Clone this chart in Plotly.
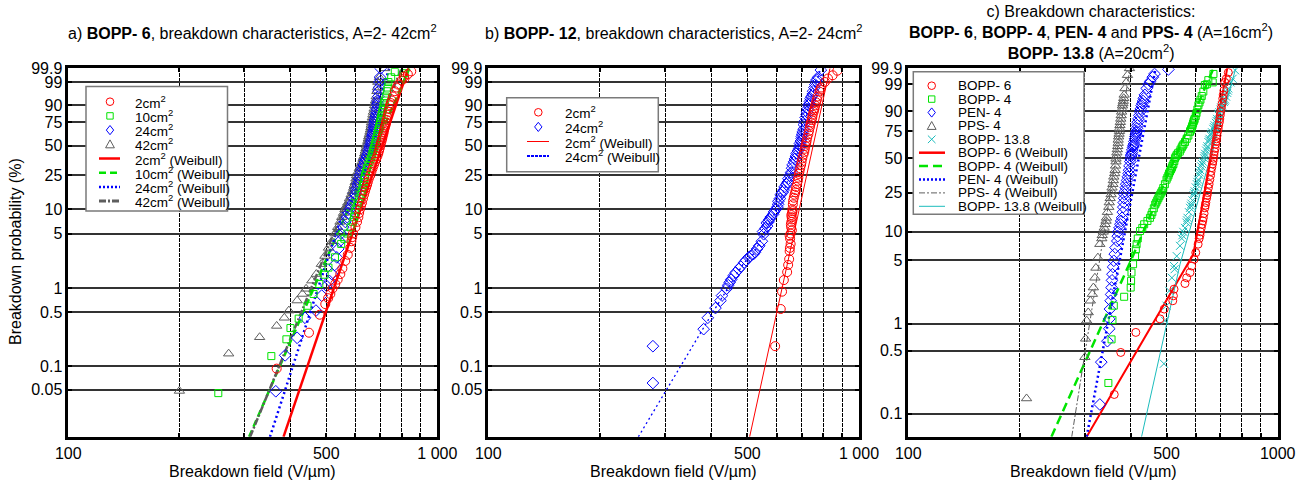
import numpy as np
import plotly.graph_objects as go

W, H = 1308, 484
FONT = "Liberation Sans, Arial, Helvetica, sans-serif"

RED = "#ff0000"
GREEN = "#00e400"
BLUE = "#0000ff"
GRAY = "#5e5e5e"
CYAN = "#1cbcbc"

# axis ticks
field_ticks = [100, 200, 300, 400, 500, 600, 700, 800, 900, 1000]
field_labels_ab = ["100", "", "", "", "500", "", "", "", "", "1 000"]
field_labels_c = ["100", "", "", "", "500", "", "", "", "", "1000"]
prob_ticks_ab = [99.9, 99, 90, 75, 50, 25, 10, 5, 1, 0.5, 0.1, 0.05]
prob_ticks_c = [99.9, 99, 90, 75, 50, 25, 10, 5, 1, 0.5, 0.1]

# ---- a) BOPP-6, A = 2..42 cm2  (field in V/um, probability in %) ----
a_2cm_E = [367, 449, 480, 497, 506, 513, 520, 529, 537, 546, 553, 563, 572, 581, 585, 588, 591, 600, 606,
           611, 617, 625, 633, 641, 648, 658, 668, 678, 688, 695, 700, 706, 711, 716, 721, 726, 732, 738,
           745, 752, 758, 767, 776, 784, 800, 815, 812, 832, 850,
           614, 621, 629, 637, 645, 652, 663, 673, 683, 692, 698, 703, 709, 714, 718, 724, 729, 735, 741, 748]
a_2cm_F = [0.093, 0.27, 0.46, 0.63, 0.75, 0.85, 1.0, 1.14, 1.3, 1.53, 1.8, 2.25, 2.7, 3.3, 4, 4.5, 5, 6, 7,
           8, 10, 12, 15, 18, 21, 25, 30, 35, 40, 45, 50, 55, 60, 65, 70, 75, 80, 85,
           90, 93, 95, 97, 98, 98.6, 99.2, 99.4, 99.55, 99.7, 99.82,
           9, 11, 13.5, 16.5, 19.5, 23, 27.5, 32.5, 37.5, 42.5, 47.5, 52.5, 57.5, 62.5, 67.5, 72.5, 77.5, 82.5, 87.5, 91.5]

a_10cm_E = [255, 355, 390, 400, 421, 445, 462, 479, 495, 507, 528, 549, 560, 571, 582, 590, 595, 600, 610, 620,
            627, 632, 637, 645, 655, 664, 670, 676, 681, 686, 690, 695, 700, 704, 709, 715, 720, 725, 730, 734,
            737, 750, 767, 815, 818,
            597, 605, 615, 624, 630, 635, 641, 650, 660, 667, 673, 679, 684, 688, 693, 698, 702, 707, 712, 718]
a_10cm_F = [0.045, 0.135, 0.222, 0.31, 0.41, 0.6, 0.85, 1.14, 1.5, 1.85, 2.5, 3.7, 4.3, 5, 6, 7, 8, 10, 12, 15,
            18, 21, 25, 30, 35, 40, 45, 50, 55, 60, 65, 70, 75, 80, 85, 90, 93, 95, 97, 98,
            99, 99.5, 99.8, 99.75, 99.9,
            9, 11, 13.5, 16.5, 19.5, 23, 27.5, 32.5, 37.5, 42.5, 47.5, 52.5, 57.5, 62.5, 67.5, 72.5, 77.5, 82.5, 87.5, 91.5]

a_24cm_E = [365, 387, 417, 438, 469, 486, 501, 510, 518, 527, 534, 539, 544, 548, 556, 563, 570, 579, 590, 600,
            607, 612, 617, 627, 637, 645, 652, 658, 663, 667, 671, 674, 676, 680, 684, 687, 690, 692, 694, 695,
            697, 699, 702,
            575, 585, 596, 604, 610, 615, 622, 632, 641, 649, 655, 661, 665, 669, 673, 675, 678, 682, 686, 689]
a_24cm_F = [0.0475, 0.138, 0.232, 0.42, 0.52, 0.81, 1.08, 1.25, 1.53, 2.0, 2.5, 3.2, 4, 5, 6, 7, 8, 10, 12, 15,
            18, 21, 25, 30, 35, 40, 45, 50, 55, 60, 65, 70, 75, 80, 85, 90, 93, 95, 97, 98,
            99, 99.5, 99.9,
            9, 11, 13.5, 16.5, 19.5, 23, 27.5, 32.5, 37.5, 42.5, 47.5, 52.5, 57.5, 62.5, 67.5, 72.5, 77.5, 82.5, 87.5, 91.5]

a_42cm_E = [200, 272, 330, 367, 385, 396, 417, 431, 441, 457, 470, 485, 496, 507, 518, 528, 537, 545, 551, 562,
            572, 584, 593, 599, 604, 615, 625, 633, 638, 643, 648, 652, 657, 661, 663, 667, 671, 676, 680, 683,
            686, 688, 690, 697, 720,
            557, 567, 578, 589, 596, 602, 610, 620, 629, 636, 641, 646, 650, 655, 659, 662, 665, 669, 674, 678]
a_42cm_F = [0.048, 0.145, 0.236, 0.33, 0.42, 0.52, 0.70, 0.85, 0.99, 1.26, 1.53, 2.05, 2.6, 3.3, 4, 5, 6, 7, 8, 10,
            12, 15, 18, 21, 25, 30, 35, 40, 45, 50, 55, 60, 65, 70, 75, 80, 85, 90, 93, 95,
            97, 98, 99, 99.5, 99.9,
            9, 11, 13.5, 16.5, 19.5, 23, 27.5, 32.5, 37.5, 42.5, 47.5, 52.5, 57.5, 62.5, 67.5, 72.5, 77.5, 82.5, 87.5, 91.5]

# Weibull fit lines, panel a (end points read where they leave the frame)
a_fit_F = [0.0123, 99.9]
a_fit_2cm_E = [383, 835]
a_fit_10cm_E = [309, 840]
a_fit_24cm_E = [352, 741]
a_fit_42cm_E = [311, 800]

# ---- b) BOPP-12, A = 2..24 cm2 ----
b_2cm_E = [594, 615, 620, 627, 640, 644, 648, 650, 654, 652, 654, 656, 657, 658, 660, 661, 663, 664, 670, 675,
           681, 686, 694, 700, 708, 717, 722, 730, 737, 742, 748, 754, 759, 766, 773, 782, 790, 809, 825, 849,
           874,
           651, 650, 659, 655, 660, 657, 662, 667, 673, 677, 684, 688, 691, 698, 703, 712, 714, 720, 725, 733,
           739, 745, 750, 757, 762, 770, 786]
b_2cm_F = [0.181, 0.545, 0.91, 1.28, 1.62, 2.0, 2.37, 3.0, 3.7, 4.3, 5, 6, 7, 8, 9, 10, 11.5, 12.7, 15, 17,
           20, 23.6, 30, 35, 41.3, 50, 55, 62.4, 70, 75, 80, 85, 88, 92, 95, 96.9, 98, 99, 99.4, 99.64,
           99.84,
           3.3, 4.7, 5.5, 6.5, 7.5, 8.5, 9.5, 13.8, 16, 18.5, 21.8, 26, 27.8, 32.5, 38, 44, 47, 52.5, 58.5, 66,
           72.5, 77.5, 82.5, 86.5, 90, 93.5, 97.5]

b_24cm_E = [278, 278, 381, 391, 410, 423, 427, 439, 444, 448, 452, 459, 465, 474, 480, 490, 496, 504, 510, 519,
            524, 531, 538, 547, 553, 559, 564, 573, 587, 597, 605, 615, 626, 637, 650, 660, 668, 676, 684, 692,
            697, 701, 705, 710, 718, 724, 731, 737, 745, 752, 758, 766, 776, 789,
            551, 565, 570, 578, 590, 603, 606, 612, 622, 630, 642, 645, 656, 662, 672, 679, 690, 693, 700, 703,
            709, 713, 722, 727, 735, 740, 750, 762, 770]
b_24cm_F = [0.0607, 0.181, 0.30, 0.42, 0.56, 0.70, 0.81, 0.99, 1.1, 1.2, 1.3, 1.46, 1.6, 1.77, 1.9, 2.15, 2.3, 2.5, 2.6, 2.75,
            2.9, 3.2, 3.5, 4.0, 4.9, 5.8, 6.8, 7.5, 8.7, 10, 11.5, 15, 17, 19.8, 25, 30, 35, 40, 45, 50,
            55, 60, 65, 72.8, 80, 85, 90, 92.5, 95, 97, 98, 99.1, 99.5, 99.86,
            5.3, 6.2, 7.0, 8.0, 9.3, 10.7, 12.5, 13.5, 16, 18.5, 21, 23, 27, 32.5, 37.5, 42.5, 47.5, 52.5, 57.5, 62.5,
            68, 76, 82.5, 87.5, 91, 94, 96, 98.6, 99.3]

b_fit_2cm_E = [507, 835]
b_fit_2cm_F = [0.0123, 99.9]
b_fit_24cm_E = [254, 300, 406, 490, 519, 553, 600, 650, 692, 737, 789]
b_fit_24cm_F = [0.0123, 0.0466, 0.52, 2.15, 2.75, 4.9, 10, 25, 50, 92.5, 99.9]

# ---- c) BOPP-6, BOPP-4, PEN-4, PPS-4 (16 cm2), BOPP-13.8 (20 cm2) ----
c_bopp6_E = [361, 376, 413, 480, 493, 520, 522, 524, 561, 567, 579, 585, 594, 600, 609, 613, 618, 621, 624, 629,
             635, 639, 642, 646, 649, 655, 660, 666, 670, 674, 679, 683, 687, 692, 697, 699, 704, 710, 715, 719,
             726, 735,
             616, 627, 632, 637, 644, 652, 658, 663, 668, 672, 677, 681, 685, 690, 695, 701, 707, 712]
c_bopp6_F = [0.164, 0.48, 0.80, 1.13, 1.45, 1.79, 2.03, 2.4, 2.77, 3.2, 3.65, 4.3, 5.1, 6, 7.4, 8.5, 10, 11, 12, 14,
             17.7, 20, 22, 25, 27.6, 33, 39, 45, 50, 56, 62.8, 68, 74.4, 80, 85, 87.6, 92, 95.9, 98, 99.2,
             99.5, 99.8,
             9.2, 13, 15.5, 18.8, 23.5, 30, 36, 42, 47.5, 53, 59, 65.5, 71, 77, 82.5, 89.8, 94, 97]

c_bopp4_E = [348, 355, 357, 360, 384, 400, 401, 402, 406, 411, 413, 415, 418, 424, 435, 444, 451, 458, 466, 472,
             478, 484, 490, 500, 506, 511, 517, 522, 527, 533, 543, 550, 556, 567, 579, 584, 588, 592, 596, 603,
             610, 618, 629, 635, 643, 667, 649, 670,
             430, 455, 462, 469, 475, 481, 487, 495, 503, 508, 514, 519, 525, 530, 537, 546, 553, 561, 573, 581,
             586, 590, 594, 600, 606, 614, 623]
c_bopp4_F = [0.22, 0.67, 1.1, 1.58, 1.98, 2.5, 2.96, 3.65, 4.5, 5.5, 6.5, 7.4, 8.5, 10.2, 12, 13, 14, 16, 19.1, 21,
             23, 25, 27.6, 33, 36, 39, 42, 45, 50, 53, 56, 60, 62.8, 68, 74.4, 77, 80, 83, 85, 89,
             93.2, 95.5, 97.8, 98.9, 99, 99.2, 99.4, 99.75,
             11, 15, 17.5, 20, 22, 24, 26, 30, 34.5, 37.5, 40.5, 43.5, 47.5, 51.5, 54.5, 58, 61.5, 65, 71, 75.5,
             78.5, 81.5, 84, 87, 91, 94.4, 96.7]

c_pen4_E = [330, 333, 346, 350, 350, 351.5, 353, 354, 355, 356, 357, 358.5, 360, 362, 364, 368, 370, 375, 379, 382,
            384, 386, 389, 393, 396, 399, 401, 403, 406, 408, 411, 413, 415, 417, 420, 424, 428, 432, 437, 442,
            447, 452, 459, 464, 506,
            369, 373, 377, 381, 383, 385, 388, 391, 395, 397, 400, 402, 404, 407, 409, 412, 414, 416, 418, 422,
            426, 430, 434]
c_pen4_F = [0.127, 0.375, 0.64, 0.88, 1.13, 1.45, 1.79, 2.1, 2.5, 3, 3.5, 4.2, 4.9, 5.8, 6.8, 8, 10, 12, 14, 18,
            22, 25.7, 30, 35, 40, 47, 52, 55, 60, 63, 68, 71.8, 75, 80, 85, 89.7, 93, 95, 97, 98.4,
            99, 99.3, 99.6, 99.75, 99.88,
            9, 11, 13, 16, 20, 24, 27.8, 32.5, 37.5, 43.5, 49.5, 53.5, 57.5, 61.5, 65.5, 70, 73.4, 77.5, 82.5, 87.4,
            91.4, 94, 96]

c_pps4_E = [209, 300.6, 302, 304, 307, 311, 315, 317, 320, 322, 326, 330, 334, 337, 341, 344, 349, 352, 355, 358,
            360, 363, 365, 366, 368, 370, 371, 373, 374, 376, 378, 380, 382, 384, 386, 389, 392, 397,
            335, 339, 343, 346, 350, 354, 356, 359, 362, 364, 365, 367, 369, 370, 372, 373, 375, 377, 379, 381,
            383]
c_pps4_F = [0.148, 0.425, 0.68, 1.08, 1.33, 1.79, 2.12, 2.5, 3.2, 4.1, 5.3, 7.4, 8.5, 10, 12, 14, 18, 22, 25.7, 30,
            35, 40, 47, 52, 58, 64, 70, 75, 80, 85, 89.7, 93, 95, 97, 98.4, 99.2, 99.7, 99.9,
            9.2, 11, 13, 16, 20, 24, 27.8, 32.5, 37.5, 43.5, 49.5, 55, 61, 67, 72.5, 77.5, 82.5, 87.4, 91.4, 94,
            96]

c_bopp138_E = [492, 495, 500, 509, 517, 526, 524, 533, 544, 550, 555, 561, 566, 570, 575, 579, 584, 588, 592, 596,
               600, 604, 609, 613, 617, 621, 627, 632, 636, 640, 645, 649, 654, 659, 664, 669, 675, 680, 685, 690,
               695, 700, 707, 715, 720, 725, 730, 735, 745, 755, 767,
               552, 568, 582, 594, 606, 615, 624, 634, 643, 652, 661, 672, 683, 692, 703, 718, 733]
c_bopp138_F = [0.36, 1.08, 1.58, 2.3, 3.2, 3.97, 4.3, 5.5, 7.1, 8.5, 10, 11, 12.5, 14, 16, 17.7, 19.5, 21, 23.5, 25.7,
               28, 30, 33, 36.5, 40, 43, 47, 50, 54, 57, 61, 65, 68, 71, 74, 77, 80, 82, 85, 87.6,
               89.5, 91, 93, 94.6, 95.6, 96.5, 97.5, 98.4, 99.2, 99.5, 99.86,
               9.2, 13.2, 18.6, 24.6, 31.5, 38.2, 45, 52, 59, 66.5, 72.5, 78.5, 83.5, 88.5, 92, 95.1, 98]

c_fit_bopp6_E = [304, 591, 730]
c_fit_bopp6_F = [0.0556, 5.76, 99.9]
c_fit_bopp4_E = [244, 402, 670]
c_fit_bopp4_F = [0.0556, 5.1, 99.9]
c_fit_pen4_E = [304, 467]
c_fit_pen4_F = [0.0556, 99.9]
c_fit_pps4_E = [277, 398]
c_fit_pps4_F = [0.0556, 99.9]
c_fit_bopp138_E = [428, 544, 770]
c_fit_bopp138_F = [0.0556, 4.5, 99.9]


def weibull(F):
    # Weibull probability scale: ln(-ln(1-F))
    F = np.asarray(F, dtype=float) / 100.0
    return np.log(-np.log(1.0 - F))


def fx(x):
    return x / W


def fy(y):
    return 1 - y / H


fig = go.Figure()


def add_fit(ax, E, F, color, width, dash):
    fig.add_trace(go.Scatter(x=E, y=weibull(F), mode="lines", xaxis=ax[0], yaxis=ax[1],
                             showlegend=False, hoverinfo="skip",
                             line=dict(color=color, width=width, dash=dash)))


def add_points(ax, E, F, color, symbol, size=8):
    fig.add_trace(go.Scatter(x=E, y=weibull(F), mode="markers", xaxis=ax[0], yaxis=ax[1],
                             showlegend=False,
                             marker=dict(symbol=symbol, size=size, color=color,
                                         line=dict(color=color, width=1))))


A, B, C = ("x", "y"), ("x2", "y2"), ("x3", "y3")

# panel a
add_fit(A, a_fit_2cm_E, a_fit_F, RED, 2.5, "solid")
add_fit(A, a_fit_10cm_E, a_fit_F, GREEN, 2.5, "7px,4px")
add_fit(A, a_fit_24cm_E, a_fit_F, BLUE, 2.5, "2px,3px")
add_fit(A, a_fit_42cm_E, a_fit_F, GRAY, 2.5, "7px,2px,2px,2px")
add_points(A, a_42cm_E, a_42cm_F, GRAY, "triangle-up-open", 9)
add_points(A, a_24cm_E, a_24cm_F, BLUE, "diamond-open", 9)
add_points(A, a_10cm_E, a_10cm_F, GREEN, "square-open", 7)
add_points(A, a_2cm_E, a_2cm_F, RED, "circle-open", 9)

# panel b
add_fit(B, b_fit_2cm_E, b_fit_2cm_F, RED, 1, "solid")
add_fit(B, b_fit_24cm_E, b_fit_24cm_F, BLUE, 1.3, "2px,3px")
add_points(B, b_24cm_E, b_24cm_F, BLUE, "diamond-open", 9)
add_points(B, b_2cm_E, b_2cm_F, RED, "circle-open", 9)

# panel c
add_fit(C, c_fit_bopp6_E, c_fit_bopp6_F, RED, 2, "solid")
add_fit(C, c_fit_bopp4_E, c_fit_bopp4_F, GREEN, 2.5, "9px,5px")
add_fit(C, c_fit_pen4_E, c_fit_pen4_F, BLUE, 2.5, "2px,3px")
add_fit(C, c_fit_pps4_E, c_fit_pps4_F, GRAY, 1, "6px,2px,2px,2px")
add_fit(C, c_fit_bopp138_E, c_fit_bopp138_F, CYAN, 1, "solid")
add_points(C, c_pps4_E, c_pps4_F, GRAY, "triangle-up-open", 9)
add_points(C, c_pen4_E, c_pen4_F, BLUE, "diamond-open", 9)
add_points(C, c_bopp4_E, c_bopp4_F, GREEN, "square-open", 7)
add_points(C, c_bopp138_E, c_bopp138_F, CYAN, "x-thin", 8)
add_points(C, c_bopp6_E, c_bopp6_F, RED, "circle-open", 8)


def xaxis_cfg(left, right, labels, anchor):
    return dict(domain=[fx(left), fx(right)], anchor=anchor, type="log", range=[2, 3],
                tickvals=field_ticks, ticktext=labels,
                showgrid=True, gridcolor="black", gridwidth=1.4, griddash="4px,1px",
                showline=True, linecolor="black", linewidth=2.5, mirror="ticks",
                ticks="inside", ticklen=4, tickcolor="black", tickwidth=1.5,
                tickfont=dict(size=16, color="black", family=FONT),
                zeroline=False, automargin=False, fixedrange=True)


def yaxis_cfg(ticks, bottom, anchor):
    return dict(domain=[fy(436.7), fy(68.3)], anchor=anchor, range=[bottom, 1.935],
                tickvals=weibull(ticks).tolist(), ticktext=[f"{t:g}" for t in ticks],
                showgrid=True, gridcolor="#333333", gridwidth=1.6,
                showline=True, linecolor="black", linewidth=2.5, mirror="ticks",
                ticks="inside", ticklen=4, tickcolor="black", tickwidth=1.5,
                tickfont=dict(size=16, color="black", family=FONT),
                zeroline=False, automargin=False, fixedrange=True)


annotations = []
shapes = []


def text(x, y, s, size=16, anchor="center", angle=0):
    annotations.append(dict(x=fx(x), y=fy(y), xref="paper", yref="paper", text=s, showarrow=False,
                            xanchor=anchor, yanchor="middle", textangle=angle,
                            font=dict(size=size, color="black", family=FONT)))


# titles
text(252.8, 31.5, "a) <b>BOPP- 6</b>, breakdown characteristics, A=2- 42cm<sup>2</sup>")
text(673.7, 31.5, "b) <b>BOPP- 12</b>, breakdown characteristics, A=2- 24cm<sup>2</sup>")
text(1091, 32, "c) Breakdown characteristics:<br><b>BOPP- 6</b>, <b>BOPP- 4</b>, <b>PEN- 4</b> and "
               "<b>PPS- 4</b> (A=16cm<sup>2</sup>)<br><b>BOPP- 13.8</b> (A=20cm<sup>2</sup>)")
text(15, 252, "Breakdown probability (%)", angle=-90)
for cx in (252.8, 673.7, 1093):
    text(cx, 471.5, "Breakdown field (V/µm)")


def legend_marker(kind, cx, cy, color):
    r = 3.8
    ln = dict(color=color, width=1)
    base = dict(xref="paper", yref="paper", line=ln)
    if kind == "circle":
        shapes.append(dict(type="circle", x0=fx(cx - r), x1=fx(cx + r), y0=fy(cy + r), y1=fy(cy - r), **base))
    elif kind == "square":
        q = 3.2
        shapes.append(dict(type="rect", x0=fx(cx - q), x1=fx(cx + q), y0=fy(cy + q), y1=fy(cy - q), **base))
    elif kind == "diamond":
        d = 4.6
        p = (f"M{fx(cx)},{fy(cy - d)} L{fx(cx + d * 0.8)},{fy(cy)} L{fx(cx)},{fy(cy + d)} "
             f"L{fx(cx - d * 0.8)},{fy(cy)} Z")
        shapes.append(dict(type="path", path=p, **base))
    elif kind == "triangle":
        t = 4.4
        p = f"M{fx(cx)},{fy(cy - t)} L{fx(cx + t)},{fy(cy + t * 0.8)} L{fx(cx - t)},{fy(cy + t * 0.8)} Z"
        shapes.append(dict(type="path", path=p, **base))
    elif kind == "x":
        p = (f"M{fx(cx - r)},{fy(cy - r)} L{fx(cx + r)},{fy(cy + r)} "
             f"M{fx(cx - r)},{fy(cy + r)} L{fx(cx + r)},{fy(cy - r)}")
        shapes.append(dict(type="path", path=p, **base))


def legend(box, y0, step, mx, lx0, lx1, tx, size, entries):
    x0, t0, x1, t1 = box
    shapes.append(dict(type="rect", xref="paper", yref="paper", x0=fx(x0), x1=fx(x1), y0=fy(t1), y1=fy(t0),
                       line=dict(color="#7a7a7a", width=1.5), fillcolor="white", layer="above"))
    for i, (label, kind, color, style) in enumerate(entries):
        cy = y0 + i * step
        if kind == "line":
            width, dash = style
            shapes.append(dict(type="line", xref="paper", yref="paper", x0=fx(lx0), x1=fx(lx1),
                               y0=fy(cy), y1=fy(cy), line=dict(color=color, width=width, dash=dash)))
        else:
            legend_marker(kind, mx, cy, color)
        text(tx, cy, label, size=size, anchor="left")


legend((86, 86.5, 227.5, 211), 101.7, 14.2, 110, 99, 120, 133, 13.5, [
    ("2cm<sup>2</sup>", "circle", RED, None),
    ("10cm<sup>2</sup>", "square", GREEN, None),
    ("24cm<sup>2</sup>", "diamond", BLUE, None),
    ("42cm<sup>2</sup>", "triangle", GRAY, None),
    ("2cm<sup>2</sup> (Weibull)", "line", RED, (2.5, "solid")),
    ("10cm<sup>2</sup> (Weibull)", "line", GREEN, (2.5, "7px,4px")),
    ("24cm<sup>2</sup> (Weibull)", "line", BLUE, (2.5, "2px,2px")),
    ("42cm<sup>2</sup> (Weibull)", "line", GRAY, (3, "7px,2px,2px,2px")),
])

legend((506.7, 97.7, 658.3, 171.7), 112.3, 14.6, 538.3, 527, 549, 563, 13.5, [
    ("2cm<sup>2</sup>", "circle", RED, None),
    ("24cm<sup>2</sup>", "diamond", BLUE, None),
    ("2cm<sup>2</sup> (Weibull)", "line", RED, (1, "solid")),
    ("24cm<sup>2</sup> (Weibull)", "line", BLUE, (2, "3px,1px")),
])

legend((913.3, 71.7, 1084, 214.3), 85.7, 13.4, 931.7, 919, 945, 955.7, 13.5, [
    ("BOPP- 6", "circle", RED, None),
    ("BOPP- 4", "square", GREEN, None),
    ("PEN- 4", "diamond", BLUE, None),
    ("PPS- 4", "triangle", GRAY, None),
    ("BOPP- 13.8", "x", CYAN, None),
    ("BOPP- 6 (Weibull)", "line", RED, (2.5, "solid")),
    ("BOPP- 4 (Weibull)", "line", GREEN, (2.5, "9px,5px")),
    ("PEN- 4 (Weibull)", "line", BLUE, (2.5, "2px,2px")),
    ("PPS- 4 (Weibull)", "line", GRAY, (1, "6px,2px,2px,2px")),
    ("BOPP- 13.8 (Weibull)", "line", CYAN, (1, "solid")),
])

fig.update_layout(
    width=W, height=H,
    margin=dict(l=0, r=0, t=0, b=0),
    paper_bgcolor="white", plot_bgcolor="white",
    showlegend=False,
    font=dict(family=FONT, size=16, color="black"),
    xaxis=xaxis_cfg(68.3, 437.3, field_labels_ab, "y"),
    yaxis=yaxis_cfg(prob_ticks_ab, -9.0, "x"),
    xaxis2=xaxis_cfg(488.3, 859, field_labels_ab, "y2"),
    yaxis2=yaxis_cfg(prob_ticks_ab, -9.0, "x2"),
    xaxis3=xaxis_cfg(908.3, 1277.7, field_labels_c, "y3"),
    yaxis3=yaxis_cfg(prob_ticks_c, -7.493, "x3"),
    annotations=annotations,
    shapes=shapes,
)

# the page body has a default 8px margin; drop it so the figure sits at the window origin
fig.write_html("out.html", config={"displayModeBar": False},
               post_script="document.body.style.margin='0px';")
